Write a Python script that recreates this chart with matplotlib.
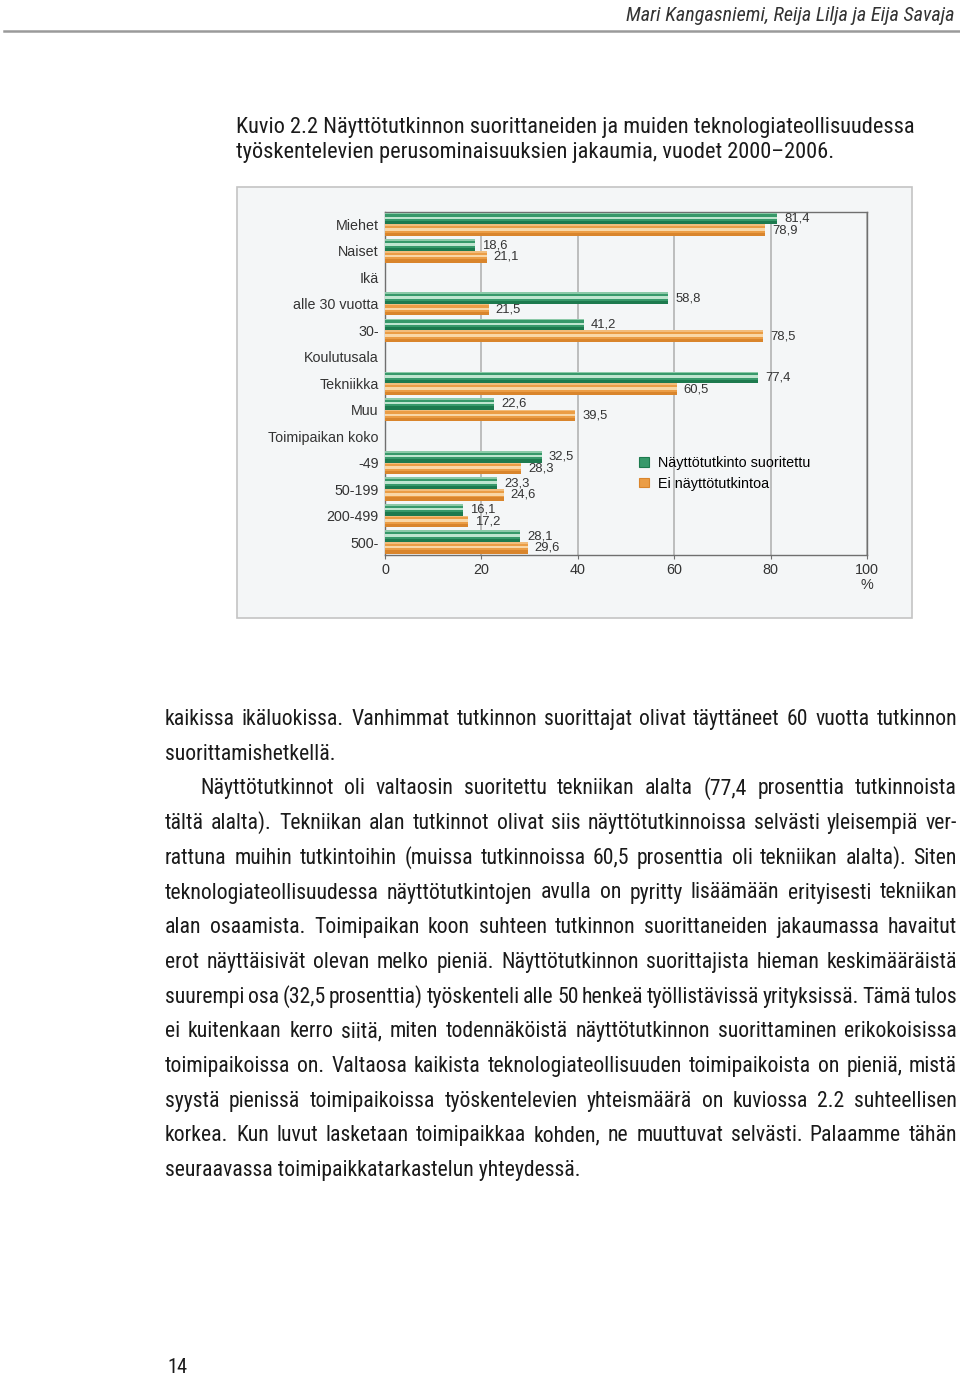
import matplotlib
matplotlib.use("Agg")
import matplotlib.pyplot as plt
from matplotlib import font_manager as fm
from matplotlib.patches import Rectangle, Patch
from matplotlib.lines import Line2D
import numpy as np

# ---------------- data ----------------
categories = ["Miehet", "Naiset", "Ikä", "alle 30 vuotta", "30-", "Koulutusala",
              "Tekniikka", "Muu", "Toimipaikan koko", "-49", "50-199", "200-499", "500-"]
naytto = [81.4, 18.6, np.nan, 58.8, 41.2, np.nan, 77.4, 22.6, np.nan, 32.5, 23.3, 16.1, 28.1]
ei_naytto = [78.9, 21.1, np.nan, 21.5, 78.5, np.nan, 60.5, 39.5, np.nan, 28.3, 24.6, 17.2, 29.6]
series_names = ["Näyttötutkinto suoritettu", "Ei näyttötutkintoa"]
xticks = [0, 20, 40, 60, 80, 100]
xticklabels = ["0", "20", "40", "60", "80", "100\n%"]

header = "Mari Kangasniemi, Reija Lilja ja Eija Savaja"
caption = ["Kuvio 2.2 Näyttötutkinnon suorittaneiden ja muiden teknologiateollisuudessa",
           "työskentelevien perusominaisuuksien jakaumia, vuodet 2000–2006."]
body = [
    ("kaikissa ikäluokissa. Vanhimmat tutkinnon suorittajat olivat täyttäneet 60 vuotta tutkinnon", 0, True),
    ("suorittamishetkellä.", 0, False),
    ("Näyttötutkinnot oli valtaosin suoritettu tekniikan alalta (77,4 prosenttia tutkinnoista", 1, True),
    ("tältä alalta). Tekniikan alan tutkinnot olivat siis näyttötutkinnoissa selvästi yleisempiä ver-", 0, True),
    ("rattuna muihin tutkintoihin (muissa tutkinnoissa 60,5 prosenttia oli tekniikan alalta). Siten", 0, True),
    ("teknologiateollisuudessa näyttötutkintojen avulla on pyritty lisäämään erityisesti tekniikan", 0, True),
    ("alan osaamista. Toimipaikan koon suhteen tutkinnon suorittaneiden jakaumassa havaitut", 0, True),
    ("erot näyttäisivät olevan melko pieniä. Näyttötutkinnon suorittajista hieman keskimääräistä", 0, True),
    ("suurempi osa (32,5 prosenttia) työskenteli alle 50 henkeä työllistävissä yrityksissä. Tämä tulos", 0, True),
    ("ei kuitenkaan kerro siitä, miten todennäköistä näyttötutkinnon suorittaminen erikokoisissa", 0, True),
    ("toimipaikoissa on. Valtaosa kaikista teknologiateollisuuden toimipaikoista on pieniä, mistä", 0, True),
    ("syystä pienissä toimipaikoissa työskentelevien yhteismäärä on kuviossa 2.2 suhteellisen", 0, True),
    ("korkea. Kun luvut lasketaan toimipaikkaa kohden, ne muuttuvat selvästi. Palaamme tähän", 0, True),
    ("seuraavassa toimipaikkatarkastelun yhteydessä.", 0, False),
]
page_number = "14"

# ---------------- fonts ----------------
names = {f.name for f in fm.fontManager.ttflist}
narrow = None
for cand in ["Liberation Sans Narrow", "Roboto Condensed", "Open Sans Condensed", "DejaVu Sans Condensed"]:
    if cand in names:
        narrow = cand
        break
if narrow is None:
    narrow = "DejaVu Sans"
chart_font = "Liberation Sans" if "Liberation Sans" in names else "DejaVu Sans"
plt.rcParams["font.family"] = [chart_font, "DejaVu Sans"]

W, H = 960, 1375
fig = plt.figure(figsize=(W / 100, H / 100), dpi=100)
fig.patch.set_facecolor("white")
renderer = fig.canvas.get_renderer()


def fx(px):
    return px / W


def fy(py):
    return 1 - py / H


def width_of(t):
    return t.get_window_extent(renderer).width


def fit_text(x, y, s, target_w, **kw):
    t = fig.text(fx(x), fy(y), s, fontsize=12, **kw)
    w = width_of(t)
    t.set_fontsize(12 * target_w / w)
    return t


# header
hdr = fit_text(955, 21, header, 327, ha="right", va="baseline", family=[narrow, "DejaVu Sans"],
               style="italic", color="#333333")
fig.add_artist(Line2D([fx(4), fx(960)], [fy(31), fy(31)], color="#9a9a9a", lw=1.8))

# caption
c1 = fit_text(236, 133, caption[0], 676, ha="left", va="baseline", family=[narrow, "DejaVu Sans"],
              color="#1a1a1a")
fig.text(fx(236), fy(158), caption[1], fontsize=c1.get_fontsize(), ha="left", va="baseline",
         family=[narrow, "DejaVu Sans"], color="#1a1a1a")

# chart box
fig.add_artist(Rectangle((fx(237), fy(618)), fx(912) - fx(237), fy(187) - fy(618),
                         transform=fig.transFigure, facecolor="#f4f6f7", edgecolor="#c4c4c4",
                         lw=1.2, zorder=0))

ax = fig.add_axes([fx(385), fy(555), fx(867) - fx(385), fy(212) - fy(555)])
ax.set_facecolor("#f4f6f7")
ax.set_zorder(1)

y = np.arange(len(categories))
h = 0.44
off = 0.22
# (height fraction, centre shift as fraction of h, colour) -- simple cylinder shading
layers_g = [(1.0, 0.0, "#1d7a4e"), (0.72, -0.14, "#37996a"), (0.22, -0.06, "#bfe5cf"),
            (0.14, -0.43, "#8cc9a8")]
layers_o = [(1.0, 0.0, "#d9852c"), (0.72, -0.14, "#eb9d45"), (0.22, -0.06, "#f9d7a6"),
            (0.14, -0.43, "#f2bd7c")]

for vals, sign, layers in [(naytto, -1, layers_g), (ei_naytto, 1, layers_o)]:
    v = np.array(vals, dtype=float)
    m = ~np.isnan(v)
    yc = y[m] + sign * off
    for frac, dy, col in layers:
        ax.barh(yc + dy * h, v[m], height=h * frac, color=col, edgecolor="none", zorder=3)
    for yy, vv in zip(yc, v[m]):
        ax.annotate(f"{vv:.1f}".replace(".", ","), xy=(vv, yy), xytext=(5, 0),
                    textcoords="offset points", va="center", ha="left", fontsize=9.4,
                    color="#333333", zorder=5)

ax.set_xlim(0, 100)
ax.set_ylim(len(categories) - 1 + 0.49, -0.47)
ax.set_xticks(xticks)
ax.set_xticklabels(xticklabels, fontsize=10.4, color="#333333", linespacing=1.15)
ax.set_yticks(y)
ax.set_yticklabels(categories, fontsize=10.3, color="#333333")
ax.tick_params(axis="y", length=0, pad=4.5)
ax.tick_params(axis="x", length=3, color="#707070", pad=2.5)
ax.grid(axis="x", color="#b8b8b8", lw=1.3, zorder=1)
ax.set_axisbelow(True)
for sp in ax.spines.values():
    sp.set_color("#6f6f6f")
    sp.set_linewidth(1.0)

handles = [Patch(facecolor=layers_g[1][2], edgecolor=layers_g[0][2], lw=0.8),
           Patch(facecolor=layers_o[1][2], edgecolor=layers_o[0][2], lw=0.8)]
ax.legend(handles, series_names, loc="center left", bbox_to_anchor=(0.527, 0.238), frameon=False,
          fontsize=10.4, handlelength=0.7, handleheight=0.65, handletextpad=0.6,
          labelspacing=0.45, borderpad=0, borderaxespad=0)

# ---------------- body text ----------------
left, right = 165, 957
indent = 35
baselines = [725 + 34.7 * i for i in range(len(body))]
fam = [narrow, "DejaVu Sans"]

# font size from the last (unjustified) line
probe = fig.text(0, 0, body[-1][0], fontsize=12, family=fam)
body_fs = 12 * 445 / width_of(probe)
probe.remove()
# make sure justified lines fit with a minimal word gap
for s, ind, just in body:
    if just:
        nw = len(s.split(" "))
        p = fig.text(0, 0, s.replace(" ", ""), fontsize=body_fs, family=fam)
        avail = right - left - ind * indent - (nw - 1) * 3.0
        w = width_of(p)
        p.remove()
        if w > avail:
            body_fs *= avail / w

for (s, ind, just), yb in zip(body, baselines):
    x0 = left + ind * indent
    if not just:
        fig.text(fx(x0), fy(yb), s, fontsize=body_fs, family=fam, va="baseline", ha="left", color="#1a1a1a")
        continue
    words = s.split(" ")
    ts = [fig.text(0, fy(yb), wd, fontsize=body_fs, family=fam, va="baseline", ha="left", color="#1a1a1a")
          for wd in words]
    ws = [width_of(t) for t in ts]
    gap = (right - x0 - sum(ws)) / (len(words) - 1)
    x = x0
    for t, w in zip(ts, ws):
        t.set_x(fx(x))
        x += w + gap

fit_text(167, 1373, page_number, 20, ha="left", va="baseline", family=fam, color="#1a1a1a")

fig.savefig("out.png", dpi=100, facecolor="white")
